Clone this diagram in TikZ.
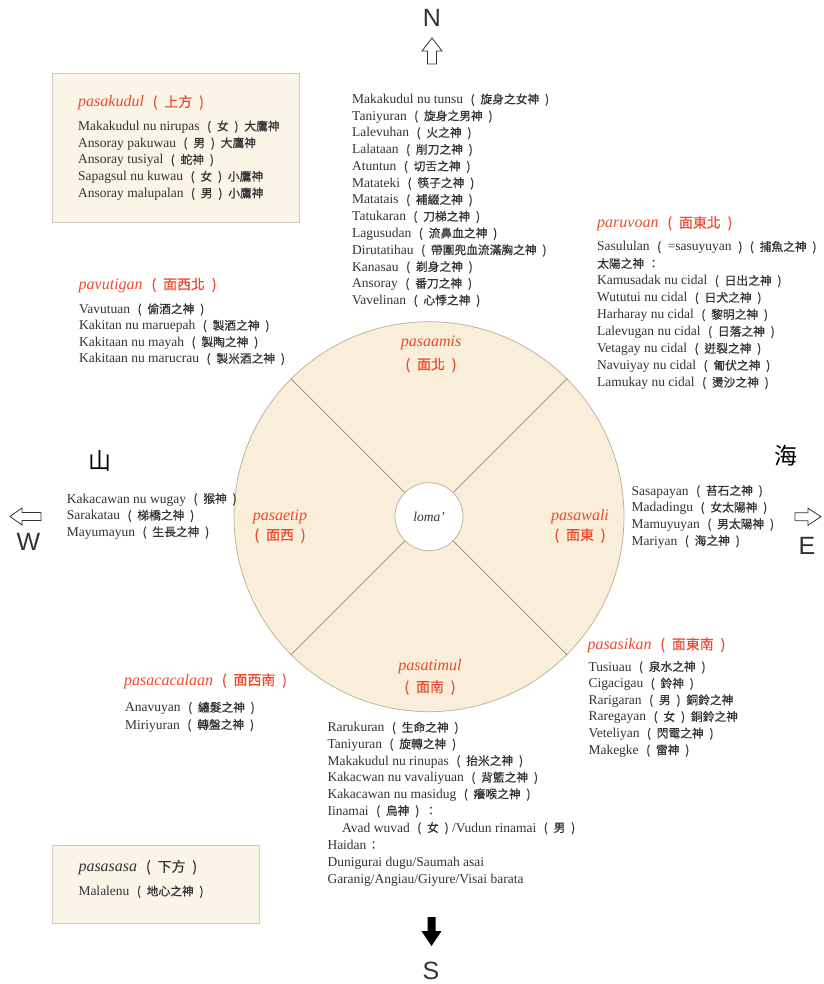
\documentclass[tikz,border=0pt]{standalone}
\usepackage{fontspec}
\setmainfont{Liberation Serif}
\newfontfamily\cjk{Noto Sans CJK TC}[Scale=0.87, FakeBold=0.6]
\newfontfamily\cjkbig{Noto Sans CJK TC}
\newfontfamily\lsans{Liberation Sans}
\definecolor{tgray}{HTML}{333333}
\definecolor{tred}{HTML}{EC4A2C}
\definecolor{cfill}{HTML}{F8EEDA}
\definecolor{bfill}{HTML}{FBF5E8}
\definecolor{bline}{HTML}{CFC9BE}
\definecolor{cline}{HTML}{C2B49C}
\definecolor{sline}{HTML}{7D7466}
\newcommand\zh[1]{{\upshape\cjk #1}}
\newcommand\zp[1]{\hspace{0.55em}{\upshape\cjk(\hspace{0.5em}#1\hspace{0.5em})}}
\tikzset{
  txt/.style={anchor=base west, inner sep=0pt, text=tgray, font=\fontsize{13.5}{16}\selectfont},
  ttl/.style={anchor=base west, inner sep=0pt, text=tred, font=\fontsize{16}{18}\selectfont\itshape},
  ctr/.style={anchor=base, inner sep=0pt, text=tred, font=\fontsize{16}{18}\selectfont\itshape},
  cjkc/.style={anchor=base, inner sep=0pt, text=tred, font=\fontsize{16}{18}\selectfont},
  dirl/.style={inner sep=0pt, text=tgray, font=\lsans\fontsize{25}{28}\selectfont},
  bigzh/.style={inner sep=0pt, text=black, font=\cjkbig\fontsize{23}{26}\selectfont},
  panel/.style={draw=bline, fill=bfill, line width=0.8pt},
  hollow/.style={draw=tgray, fill=white, line width=0.8pt, line join=miter},
}
\begin{document}
\begin{tikzpicture}[x=1pt,y=-1pt]
\useasboundingbox (0,0) rectangle (823,984);

% panels
\path[panel] (52,73) rectangle (299,222);
\path[panel] (52,845) rectangle (259,923);

% disc
\node[circle, draw=cline, fill=cfill, minimum size=390pt, inner sep=0pt, line width=0.8pt] (disc) at (429,516.7) {};
\node[circle, minimum size=68pt, inner sep=0pt] (hubp) at (429,516.7) {};
\foreach \a in {45,135,225,315} \draw[sline, line width=0.6pt] (hubp.\a) -- (disc.\a);
\node[circle, draw=cline, fill=white, minimum size=68pt, inner sep=0pt, line width=0.8pt] (hub) at (429,516.7) {};
\node[anchor=base, inner sep=0pt, text=tgray, font=\fontsize{13.5}{16}\selectfont\itshape] (loma) at (429,521) {loma'};

% disc labels
\node[ctr] (amis) at (431,346.7) {pasaamis};
\node[cjkc] (amiszh) at (431,369.5) {\zh{(\hspace{0.5em}面北\hspace{0.5em})}};
\node[ctr] (etip) at (280,520) {pasaetip};
\node[cjkc] (etipzh) at (280,540) {\zh{(\hspace{0.5em}面西\hspace{0.5em})}};
\node[ctr] (wali) at (580,520) {pasawali};
\node[cjkc] (walizh) at (580,540) {\zh{(\hspace{0.5em}面東\hspace{0.5em})}};
\node[ctr] (timul) at (430,670) {pasatimul};
\node[cjkc] (timulzh) at (430,692) {\zh{(\hspace{0.5em}面南\hspace{0.5em})}};

% top-left panel
\node[ttl] (kudul) at (78,107) {pasakudul\zp{上方}};
\foreach[count=\i] \t in {
  Makakudul nu nirupas\zp{女}\zh{\hspace{0.5em}大鷹神},
  Ansoray pakuwau\zp{男}\zh{\hspace{0.5em}大鷹神},
  Ansoray tusiyal\zp{蛇神},
  Sapagsul nu kuwau\zp{女}\zh{\hspace{0.5em}小鷹神},
  Ansoray malupalan\zp{男}\zh{\hspace{0.5em}小鷹神}}
  \node[txt] (kd\i) at (78,{130.5+16.75*(\i-1)}) {\t};

% top center list
\foreach[count=\i] \t in {
  Makakudul nu tunsu\zp{旋身之女神},
  Taniyuran\zp{旋身之男神},
  Lalevuhan\zp{火之神},
  Lalataan\zp{削刀之神},
  Atuntun\zp{切舌之神},
  Matateki\zp{筷子之神},
  Matatais\zp{補綴之神},
  Tatukaran\zp{刀梯之神},
  Lagusudan\zp{流鼻血之神},
  Dirutatihau\zp{帶圍兜血流滿胸之神},
  Kanasau\zp{剃身之神},
  Ansoray\zp{番刀之神},
  Vavelinan\zp{心悸之神}}
  \node[txt] (tc\i) at (352,{103.5+16.75*(\i-1)}) {\t};

% paruvoan
\node[ttl] (ruvo) at (597,227.7) {paruvoan\zp{面東北}};
\foreach[count=\i] \t in {
  Sasululan\hspace{0.55em}\zh{(}\hspace{0.5em}=sasuyuyan\hspace{0.5em}\zh{)}\zp{捕魚之神},
  \zh{太陽之神\hspace{0.3em}：},
  Kamusadak nu cidal\zp{日出之神},
  Wututui nu cidal\zp{日犬之神},
  Harharay nu cidal\zp{黎明之神},
  Lalevugan nu cidal\zp{日落之神},
  Vetagay nu cidal\zp{迸裂之神},
  Navuiyay nu cidal\zp{匍伏之神},
  Lamukay nu cidal\zp{燙沙之神}}
  \node[txt] (rv\i) at (597,{251+16.96*(\i-1)}) {\t};

% pavutigan
\node[ttl] (vuti) at (78.5,289.3) {pavutigan\zp{面西北}};
\foreach[count=\i] \t in {
  Vavutuan\zp{偷酒之神},
  Kakitan nu maruepah\zp{製酒之神},
  Kakitaan nu mayah\zp{製陶之神},
  Kakitaan nu marucrau\zp{製米酒之神}}
  \node[txt] (vt\i) at (79,{313.3+16.5*(\i-1)}) {\t};

% west list
\foreach[count=\i] \t in {
  Kakacawan nu wugay\zp{猴神},
  Sarakatau\zp{梯橋之神},
  Mayumayun\zp{生長之神}}
  \node[txt] (wl\i) at (66.7,{503+16.6*(\i-1)}) {\t};

% east list
\foreach[count=\i] \t in {
  Sasapayan\zp{苔石之神},
  Madadingu\zp{女太陽神},
  Mamuyuyan\zp{男太陽神},
  Mariyan\zp{海之神}}
  \node[txt] (el\i) at (631.5,{495+16.67*(\i-1)}) {\t};

% pasasikan
\node[ttl] (siki) at (587.3,649.3) {pasasikan\zp{面東南}};
\foreach[count=\i] \t in {
  Tusiuau\zp{泉水之神},
  Cigacigau\zp{鈴神},
  Rarigaran\zp{男}\zh{\hspace{0.5em}銅鈴之神},
  Raregayan\zp{女}\zh{\hspace{0.5em}銅鈴之神},
  Veteliyan\zp{閃電之神},
  Makegke\zp{雷神}}
  \node[txt] (sk\i) at (588.3,{671+16.65*(\i-1)}) {\t};

% pasacacalaan
\node[ttl] (caca) at (124,685) {pasacacalaan\zp{面西南}};
\node[txt] (cc1) at (125,711.7) {Anavuyan\zp{纏髮之神}};
\node[txt] (cc2) at (125,729) {Miriyuran\zp{轉盤之神}};

% bottom center list
\node[txt] (bc1) at (327.3,731.7) {Rarukuran\zp{生命之神}};
\node[txt] (bc2) at (327.3,748.3) {Taniyuran\zp{旋轉之神}};
\node[txt] (bc3) at (327.3,765) {Makakudul nu rinupas\zp{抬米之神}};
\node[txt] (bc4) at (327.3,781.7) {Kakacwan nu vavaliyuan\zp{背籃之神}};
\node[txt] (bc5) at (327.3,798.3) {Kakacawan nu masidug\zp{癢喉之神}};
\node[txt] (bc6) at (327.3,815) {Iinamai\zp{鳥神}\zh{\hspace{0.5em}：}};
\node[txt] (bc7) at (342,832) {Avad wuvad\zp{女}\hspace{0.25em}/Vudun rinamai\zp{男}};
\node[txt] (bc8) at (327.3,849.3) {Haidan\zh{\hspace{0.1em}：}};
\node[txt] (bc9) at (327.3,866.7) {Dunigurai dugu/Saumah asai};
\node[txt] (bc10) at (327.3,883.5) {Garanig/Angiau/Giyure/Visai barata};

% bottom panel
\node[ttl, text=tgray] (sasa) at (78.3,871.7) {pasasasa\zp{下方}};
\node[txt] (lenu) at (78.3,895.5) {Malalenu\zp{地心之神}};

% directions
\node[dirl] (N) at (432,18) {N};
\node[dirl] (S) at (431,971) {S};
\node[dirl] (W) at (28.3,542) {W};
\node[dirl] (E) at (807,546) {E};
\node[bigzh] (shan) at (100,461) {山};
\node[bigzh] (hai) at (786,456) {海};

% arrows
\path[hollow] (432,38) -- (442,51) -- (436.5,51) -- (436.5,64) -- (427.5,64) -- (427.5,51) -- (422,51) -- cycle;
\fill[black] (431.5,946) -- (441.5,931) -- (435.5,931) -- (435.5,917) -- (427.5,917) -- (427.5,931) -- (421.5,931) -- cycle;
\path[hollow] (10,516.5) -- (22,508) -- (22,512.5) -- (41,512.5) -- (41,520.5) -- (22,520.5) -- (22,525) -- cycle;
\path[hollow] (821,516.7) -- (808,508.2) -- (808,512.7) -- (795,512.7) -- (795,520.7) -- (808,520.7) -- (808,525.2) -- cycle;
\end{tikzpicture}
\end{document}
